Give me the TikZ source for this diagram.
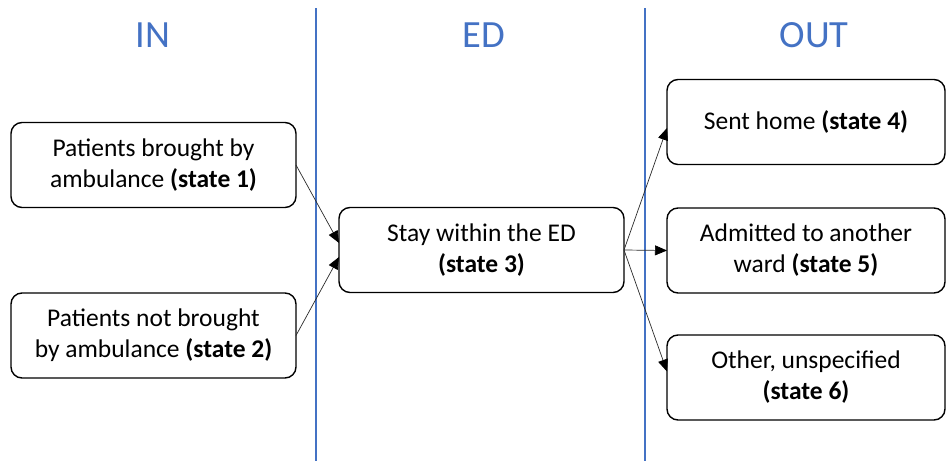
\documentclass[tikz,border=0pt]{standalone}
\usepackage{fontspec}
\setmainfont{Carlito}
\usetikzlibrary{arrows.meta,calc}
\definecolor{laneblue}{HTML}{4472C4}
\definecolor{linkgray}{HTML}{2A2A2A}
\begin{document}
\begin{tikzpicture}[x=1pt,y=-1pt,
  statebox/.style={draw=black, line width=1.4pt, rounded corners=11pt,
    minimum height=85pt, inner sep=0pt, outer sep=0pt, align=center,
    font=\fontsize{25.5}{31}\selectfont},
  lanehead/.style={text=laneblue, font=\fontsize{38.5}{42}\selectfont, anchor=base},
  divider/.style={draw=laneblue, line width=1.8pt},
  link/.style={draw=linkgray, line width=0.7pt,
    -{Triangle[length=12pt,width=10pt,color=black]}}]
\useasboundingbox (0,0) rectangle (946,461);

% lane separators
\draw[divider] (316,8) -- (316,461);
\draw[divider] (645,8) -- (645,461);

% lane headings
\node[lanehead] (hin)  at (153,47) {IN};
\node[lanehead] (hed)  at (484,47) {ED};
\node[lanehead] (hout) at (814,47) {OUT};

% states
\node[statebox, minimum width=285pt] (s1) at (153.5,165)
  {Patients brought by\\ambulance \textbf{(state 1)}};
\node[statebox, minimum width=285pt] (s2) at (153.5,335.5)
  {Patients not brought\\by ambulance \textbf{(state 2)}};
\node[statebox, minimum width=285pt] (s3) at (481.5,250)
  {Stay within the ED\\\textbf{(state 3)}};
\node[statebox, minimum width=278pt] (s4) at (806,122)
  {Sent home \textbf{(state 4)}};
\node[statebox, minimum width=278pt] (s5) at (806,250.5)
  {Admitted to another\\ward \textbf{(state 5)}};
\node[statebox, minimum width=278pt] (s6) at (806,377.5)
  {Other, unspecified\\\textbf{(state 6)}};

% transitions
\draw[link] (s1.east) -- ($(s3.west)+(0,-7)$);
\draw[link] (s2.east) -- ($(s3.west)+(0,7)$);
\draw[link] (s3.east) -- ($(s4.west)+(0,6)$);
\draw[link] (s3.east) -- (s5.west);
\draw[link] (s3.east) -- ($(s6.west)+(0,-6)$);
\end{tikzpicture}
\end{document}
